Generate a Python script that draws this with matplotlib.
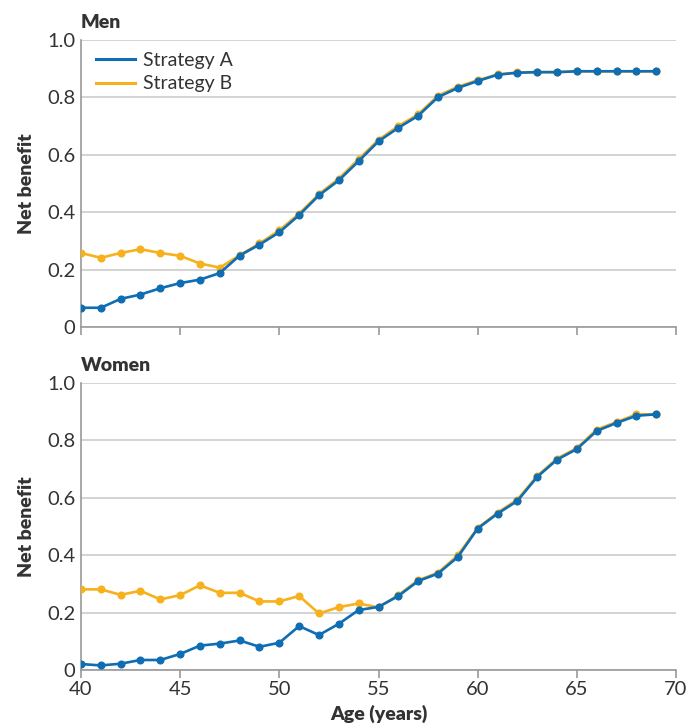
import matplotlib
matplotlib.use("Agg")
import matplotlib.pyplot as plt

# ages on the x axis
ages = list(range(40, 70))

# Men
men_a = [0.067, 0.067, 0.098, 0.113, 0.135, 0.153, 0.165, 0.188, 0.249, 0.287,
         0.330, 0.390, 0.459, 0.511, 0.578, 0.647, 0.694, 0.736, 0.801, 0.833,
         0.857, 0.879, 0.886, 0.888, 0.888, 0.891, 0.891, 0.891, 0.891, 0.891]
men_b = [0.258, 0.241, 0.258, 0.271, 0.258, 0.248, 0.221, 0.207, 0.250, 0.291,
         0.337, 0.395, 0.463, 0.517, 0.585, 0.652, 0.700, 0.741, 0.806, 0.837,
         0.860, 0.880, 0.887, 0.888, 0.888, 0.891, 0.891, 0.891, 0.891, 0.891]

# Women
women_a = [0.021, 0.016, 0.022, 0.035, 0.035, 0.056, 0.085, 0.092, 0.103, 0.081,
           0.095, 0.153, 0.122, 0.161, 0.209, 0.220, 0.258, 0.310, 0.336, 0.394,
           0.493, 0.545, 0.589, 0.673, 0.733, 0.770, 0.833, 0.861, 0.886, 0.891]
women_b = [0.281, 0.281, 0.262, 0.276, 0.246, 0.261, 0.295, 0.269, 0.269, 0.239,
           0.239, 0.258, 0.197, 0.219, 0.232, 0.218, 0.261, 0.313, 0.339, 0.400,
           0.495, 0.548, 0.594, 0.676, 0.737, 0.773, 0.838, 0.864, 0.891, 0.891]

yticks = [0, 0.2, 0.4, 0.6, 0.8, 1.0]
ytick_labels = ["0", "0.2", "0.4", "0.6", "0.8", "1.0"]
xticks = [40, 45, 50, 55, 60, 65, 70]

blue = "#0f6db3"
orange = "#f6b11c"
txt = "#333333"
spine_col = "#999999"
grid_col = "#cccccc"

plt.rcParams["font.family"] = ["Lato", "DejaVu Sans"]

fig = plt.figure(figsize=(6.88, 7.26), dpi=100)
ax1 = fig.add_axes([0.1177, 0.5496, 0.8649, 0.3953])
ax2 = fig.add_axes([0.1177, 0.0771, 0.8649, 0.3953])

panels = [(ax1, "Men", men_a, men_b), (ax2, "Women", women_a, women_b)]
for ax, title, a, b in panels:
    ax.plot(ages, b, color=orange, lw=1.9, marker="o", ms=4.8, label="Strategy B", zorder=3)
    ax.plot(ages, a, color=blue, lw=1.9, marker="o", ms=4.8, label="Strategy A", zorder=4)
    ax.set_xlim(40, 70)
    ax.set_ylim(0, 1.0)
    ax.set_yticks(yticks)
    ax.set_yticklabels(ytick_labels)
    ax.set_xticks(xticks)
    ax.yaxis.grid(True, color=grid_col, lw=1.2)
    ax.set_axisbelow(True)
    for s in ["top", "right"]:
        ax.spines[s].set_visible(False)
    for s in ["left", "bottom"]:
        ax.spines[s].set_color(spine_col)
        ax.spines[s].set_linewidth(1.2)
    ax.tick_params(axis="y", length=0, labelsize=14.5, labelcolor=txt, pad=4)
    ax.tick_params(axis="x", length=6, width=1.2, color=spine_col, direction="out",
                   labelsize=14.5, labelcolor=txt, pad=2)
    ax.set_ylabel("Net benefit", fontsize=14, fontweight="heavy", color=txt, labelpad=9)
    ax.text(0, 1.03, title, transform=ax.transAxes, fontsize=14, fontweight="heavy",
            color=txt, ha="left", va="bottom")

ax1.tick_params(axis="x", labelbottom=False)
ax2.set_xlabel("Age (years)", fontsize=14, fontweight="heavy", color=txt, labelpad=5)

handles, labels = ax1.get_legend_handles_labels()
leg = ax1.legend(handles[::-1], labels[::-1], loc="upper left", frameon=False,
                 fontsize=14, handlelength=2.0, handletextpad=0.45, labelspacing=0.35,
                 borderaxespad=0.2, bbox_to_anchor=(0.005, 1.0))
for t in leg.get_texts():
    t.set_color(txt)
for h in leg.get_lines():
    h.set_marker("")
    h.set_linewidth(2.2)

fig.savefig("out.png", dpi=100)
